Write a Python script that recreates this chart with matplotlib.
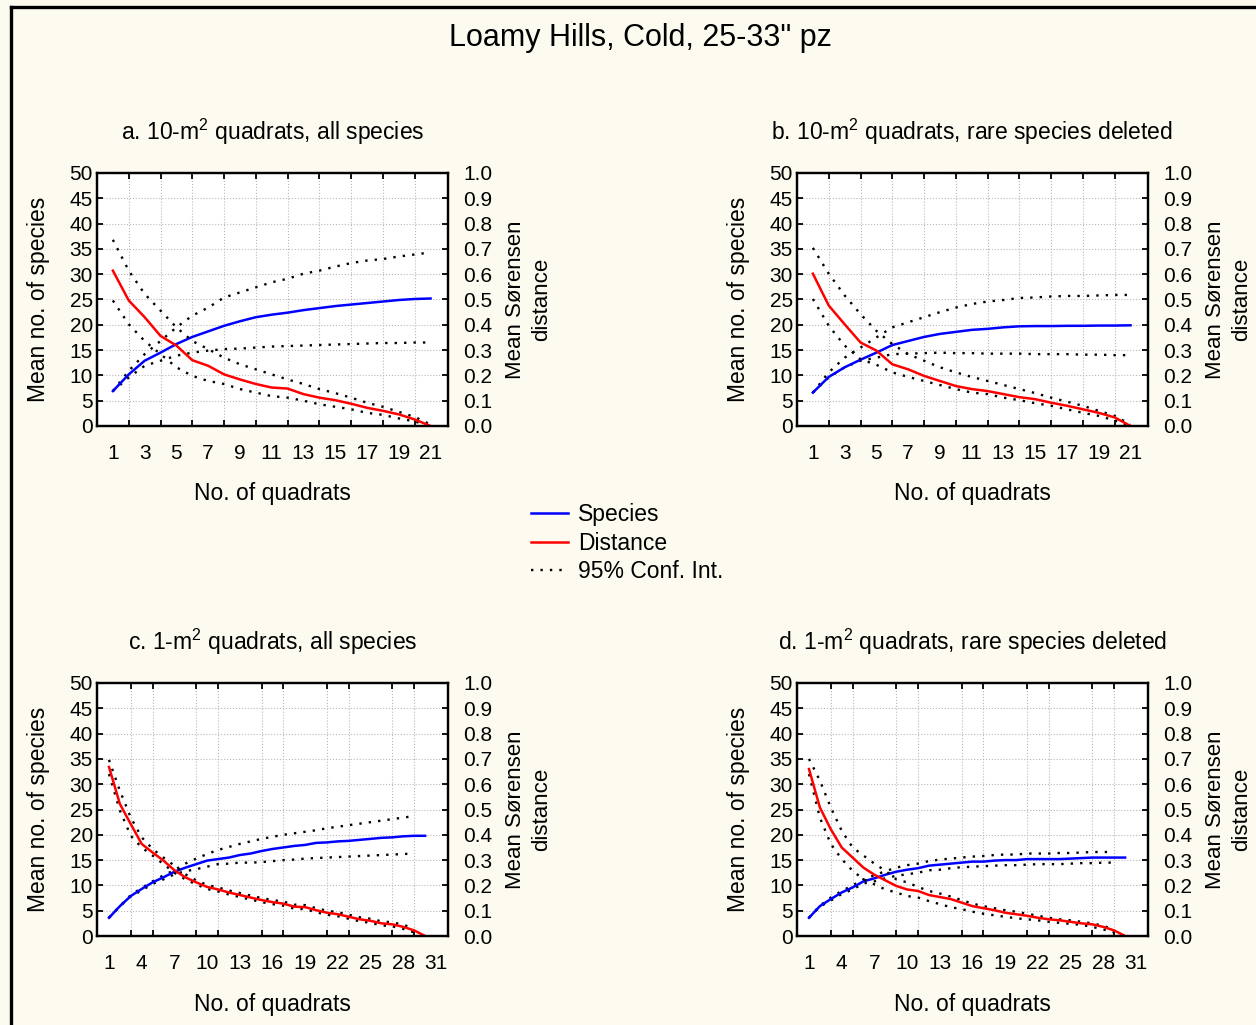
import numpy as np
import matplotlib
matplotlib.use('Agg')
import matplotlib.pyplot as plt
from matplotlib.lines import Line2D

plt.rcParams['font.family'] = ['Liberation Sans', 'DejaVu Sans']

# ---------------------------------------------------------------------------
# dados (especies: eixo esquerdo, distancia: eixo direito)
# ---------------------------------------------------------------------------

titulos = ['a. 10-m$^2$ quadrats, all species',
           'b. 10-m$^2$ quadrats, rare species deleted',
           'c. 1-m$^2$ quadrats, all species',
           'd. 1-m$^2$ quadrats, rare species deleted']

# painel a
esp_a = [6.9, 10.2, 12.9, 14.5, 16.2, 17.6, 18.7, 19.8, 20.7, 21.5, 22.0,
         22.4, 22.9, 23.3, 23.7, 24.0, 24.3, 24.6, 24.9, 25.1, 25.2]
esp_a_sup = [6.9, 10.9, 14.2, 16.8, 19.5, 21.8, 23.4, 25.4, 26.4, 27.4, 28.4,
             29.1, 30.1, 30.7, 31.5, 32.2, 32.7, 33.0, 33.5, 33.9, 34.3]
esp_a_inf = [6.9, 9.6, 11.9, 12.9, 13.9, 14.5, 14.9, 15.2, 15.3, 15.5, 15.7,
             15.8, 15.9, 16.0, 16.1, 16.2, 16.3, 16.4, 16.4, 16.5, 16.5]
dist_a = [0.614, 0.496, 0.430, 0.356, 0.318, 0.260, 0.238, 0.204, 0.184, 0.166, 0.152,
          0.148, 0.126, 0.112, 0.102, 0.088, 0.072, 0.060, 0.046, 0.026, 0.0]
dist_a_sup = [0.736, 0.614, 0.522, 0.456, 0.390, 0.336, 0.304, 0.270, 0.244, 0.224, 0.204,
              0.184, 0.166, 0.146, 0.130, 0.112, 0.092, 0.076, 0.056, 0.036, 0.006]
dist_a_inf = [0.496, 0.402, 0.336, 0.284, 0.232, 0.198, 0.178, 0.166, 0.146, 0.132, 0.118,
              0.112, 0.100, 0.086, 0.076, 0.066, 0.052, 0.044, 0.030, 0.018, 0.0]

# painel b
esp_b = [6.6, 9.7, 11.6, 13.1, 14.5, 16.0, 16.8, 17.6, 18.2, 18.6, 19.0,
         19.2, 19.5, 19.7, 19.75, 19.75, 19.8, 19.8, 19.85, 19.85, 19.9]
esp_b_sup = [6.6, 10.6, 13.5, 15.5, 17.5, 19.5, 20.5, 21.5, 22.5, 23.4, 24.1,
             24.6, 24.9, 25.3, 25.4, 25.6, 25.7, 25.7, 25.8, 25.9, 25.9]
esp_b_inf = [6.6, 9.6, 11.6, 12.9, 13.5, 14.2, 14.3, 14.4, 14.5, 14.4, 14.4,
             14.3, 14.3, 14.3, 14.2, 14.2, 14.2, 14.1, 14.1, 14.0, 14.0]
dist_b = [0.602, 0.476, 0.402, 0.330, 0.298, 0.244, 0.224, 0.198, 0.178, 0.158, 0.146,
          0.138, 0.126, 0.114, 0.106, 0.092, 0.080, 0.066, 0.052, 0.034, 0.0]
dist_b_sup = [0.704, 0.602, 0.516, 0.442, 0.376, 0.324, 0.284, 0.258, 0.232, 0.212, 0.194,
              0.178, 0.162, 0.146, 0.130, 0.112, 0.096, 0.080, 0.060, 0.040, 0.006]
dist_b_inf = [0.502, 0.396, 0.318, 0.264, 0.242, 0.212, 0.194, 0.178, 0.162, 0.146, 0.132,
              0.126, 0.112, 0.102, 0.090, 0.080, 0.066, 0.052, 0.040, 0.022, 0.0]

# painel c
esp_c = [3.6, 5.9, 7.9, 9.3, 10.6, 11.6, 12.7, 13.5, 14.2, 14.9, 15.2, 15.5, 16.0, 16.3, 16.8,
         17.2, 17.5, 17.8, 18.0, 18.4, 18.5, 18.7, 18.8, 19.0, 19.2, 19.4, 19.5, 19.7, 19.8, 19.8]
esp_c_sup = [3.6, 5.9, 8.1, 9.5, 10.8, 12.0, 13.0, 14.3, 15.3, 16.2, 17.0, 17.6, 18.2, 18.7, 19.2,
             19.6, 20.0, 20.3, 20.6, 20.9, 21.3, 21.6, 21.9, 22.2, 22.5, 22.8, 23.1, 23.4, 23.7]
esp_c_inf = [3.6, 5.9, 7.8, 9.0, 10.3, 11.2, 12.2, 12.8, 13.2, 13.7, 14.2, 14.3, 14.5, 14.5, 14.6,
             14.8, 15.0, 15.1, 15.3, 15.4, 15.5, 15.6, 15.7, 15.8, 15.9, 16.0, 16.1, 16.2, 16.3]
dist_c = [0.668, 0.522, 0.442, 0.364, 0.330, 0.298, 0.260, 0.232, 0.212, 0.194, 0.184, 0.172,
          0.162, 0.152, 0.142, 0.134, 0.128, 0.116, 0.114, 0.102, 0.092, 0.086, 0.076, 0.066,
          0.060, 0.050, 0.046, 0.036, 0.022, 0.0]
dist_c_sup = [0.696, 0.574, 0.468, 0.390, 0.344, 0.310, 0.278, 0.244, 0.220, 0.202, 0.192, 0.180,
              0.170, 0.160, 0.150, 0.142, 0.136, 0.124, 0.122, 0.110, 0.100, 0.094, 0.084, 0.074,
              0.068, 0.058, 0.054, 0.044, 0.030]
dist_c_inf = [0.640, 0.496, 0.396, 0.350, 0.318, 0.284, 0.250, 0.224, 0.204, 0.186, 0.176, 0.164,
              0.154, 0.144, 0.134, 0.126, 0.120, 0.108, 0.106, 0.094, 0.084, 0.078, 0.068, 0.058,
              0.052, 0.042, 0.038, 0.028, 0.014]

# painel d
esp_d = [3.6, 5.9, 7.3, 8.6, 9.6, 10.8, 11.4, 12.1, 12.7, 13.1, 13.4, 13.9, 14.1, 14.3, 14.5,
         14.7, 14.7, 14.9, 15.0, 15.0, 15.2, 15.2, 15.2, 15.2, 15.3, 15.4, 15.5, 15.5, 15.5, 15.5]
esp_d_sup = [3.6, 6.0, 7.6, 8.9, 10.0, 11.2, 12.0, 12.8, 13.5, 14.0, 14.3, 14.8, 15.1, 15.3, 15.5,
             15.7, 15.8, 16.0, 16.1, 16.1, 16.3, 16.3, 16.3, 16.4, 16.4, 16.5, 16.6, 16.6, 16.6]
esp_d_inf = [3.6, 5.8, 7.0, 8.3, 9.2, 10.4, 10.8, 11.4, 11.9, 12.2, 12.5, 13.0, 13.1, 13.4, 13.6,
             13.7, 13.8, 13.9, 14.0, 14.0, 14.1, 14.2, 14.2, 14.2, 14.3, 14.4, 14.4, 14.5, 14.5]
dist_d = [0.660, 0.508, 0.422, 0.350, 0.310, 0.270, 0.242, 0.220, 0.198, 0.184, 0.178, 0.162,
          0.154, 0.146, 0.132, 0.118, 0.110, 0.102, 0.092, 0.086, 0.080, 0.072, 0.066, 0.062,
          0.056, 0.050, 0.046, 0.036, 0.022, 0.0]
dist_d_sup = [0.700, 0.614, 0.508, 0.416, 0.350, 0.318, 0.286, 0.258, 0.224, 0.212, 0.194, 0.178,
              0.168, 0.156, 0.142, 0.128, 0.118, 0.110, 0.102, 0.096, 0.088, 0.080, 0.072, 0.066,
              0.062, 0.056, 0.050, 0.040, 0.026]
dist_d_inf = [0.640, 0.468, 0.364, 0.304, 0.258, 0.224, 0.204, 0.184, 0.172, 0.158, 0.152, 0.138,
              0.126, 0.114, 0.106, 0.096, 0.088, 0.082, 0.076, 0.070, 0.066, 0.062, 0.056, 0.052,
              0.048, 0.044, 0.036, 0.026, 0.014]

# rotulos do eixo x (rotulados) e marcas (com grade)
rotulos_10m = list(range(1, 22, 2))
marcas_10m = list(range(1, 22))
rotulos_1m = list(range(1, 32, 3))
marcas_1m = list(range(1, 32, 2))

paineis = [
    (titulos[0], esp_a, esp_a_sup, esp_a_inf, dist_a, dist_a_sup, dist_a_inf, rotulos_10m, marcas_10m, (0, 22.1)),
    (titulos[1], esp_b, esp_b_sup, esp_b_inf, dist_b, dist_b_sup, dist_b_inf, rotulos_10m, marcas_10m, (0, 22.1)),
    (titulos[2], esp_c, esp_c_sup, esp_c_inf, dist_c, dist_c_sup, dist_c_inf, rotulos_1m, marcas_1m, (-0.1, 32.1)),
    (titulos[3], esp_d, esp_d_sup, esp_d_inf, dist_d, dist_d_sup, dist_d_inf, rotulos_1m, marcas_1m, (-0.1, 32.1)),
]

plt.rcParams['mathtext.fontset'] = 'custom'
plt.rcParams['mathtext.rm'] = 'Liberation Sans'
plt.rcParams['mathtext.default'] = 'rm'

# posicoes dos eixos em pixels (esquerda, topo)
W, H = 1256, 1025
posicoes = [(97, 173), (797, 173), (97, 683), (797, 683)]
larg, alt = 351, 253

fundo = '#fdfaef'
pontilhado = (0, (1, 3))
tam_tick = 15

fig = plt.figure(figsize=(W / 100, H / 100), dpi=100, facecolor=fundo)

for (titulo, esp, esp_sup, esp_inf, dist, dist_sup, dist_inf, rot, marcas, xlim), (px, py) in zip(paineis, posicoes):
    ax = fig.add_axes([px / W, 1 - (py + alt) / H, larg / W, alt / H])
    ax.set_facecolor('white')
    ax2 = ax.twinx()

    x = np.arange(1, len(esp) + 1)
    xi = np.arange(1, len(esp_sup) + 1)

    ax.plot(xi, esp_sup, color='black', lw=1.7, ls=pontilhado)
    ax.plot(xi, esp_inf, color='black', lw=1.7, ls=pontilhado)
    ax.plot(x, esp, color='#0000ff', lw=1.8)

    ax2.plot(xi, dist_sup, color='black', lw=1.7, ls=pontilhado)
    ax2.plot(xi, dist_inf, color='black', lw=1.7, ls=pontilhado)
    ax2.plot(x, dist, color='#ff0000', lw=1.8)

    ax.set_xlim(*xlim)
    ax.set_ylim(0, 50)
    ax2.set_ylim(0, 1)

    ax.set_xticks(rot)
    ax.set_xticks(marcas, minor=True)
    ax.set_yticks(range(0, 51, 5))
    ax2.set_yticks(np.arange(0, 1.01, 0.1))
    ax2.set_yticklabels(['%.1f' % v for v in np.arange(0, 1.01, 0.1)])

    ax.tick_params(axis='x', which='major', length=0, pad=13, labelsize=tam_tick)
    ax.tick_params(axis='x', which='minor', direction='in', length=4, width=1.3, top=True, bottom=True)
    ax.tick_params(axis='y', direction='in', length=4, width=1.3, pad=3, labelsize=tam_tick)
    ax2.tick_params(axis='y', direction='in', length=4, width=1.3, pad=11, labelsize=tam_tick)

    ax.grid(which='minor', axis='x', ls=':', color='#b8b8b8', lw=0.8)
    ax.grid(which='major', axis='y', ls=':', color='#b8b8b8', lw=0.8)

    for s in ax.spines.values():
        s.set_linewidth(1.6)
    for s in ax2.spines.values():
        s.set_linewidth(1.6)

    ax.set_xlabel('No. of quadrats', fontsize=16.5, labelpad=14)
    ax.set_ylabel('Mean no. of species', fontsize=16.5, labelpad=14)
    ax2.set_ylabel('Mean Sørensen\ndistance', fontsize=16, labelpad=9, linespacing=1.3)
    ax.set_title(titulo, fontsize=16.5, pad=24)

fig.text(640 / W, 1 - 38 / H, 'Loamy Hills, Cold, 25-33" pz', fontsize=22, ha='center', va='center')

# legenda no centro
itens = [Line2D([], [], color='#0000ff', lw=1.8),
         Line2D([], [], color='#ff0000', lw=1.8),
         Line2D([], [], color='black', lw=1.7, ls=pontilhado)]
fig.legend(itens, ['Species', 'Distance', '95% Conf. Int.'], loc='upper left',
           bbox_to_anchor=(531 / W, 1 - 503 / H), frameon=False, fontsize=16.5,
           handlelength=1.6, handletextpad=0.45, labelspacing=0.25, borderpad=0, borderaxespad=0)

# moldura (so aparecem as bordas esquerda e superior)
fig.add_artist(Line2D([11 / W, 11 / W], [0, 1 - 7 / H], color='black', lw=2.4, transform=fig.transFigure))
fig.add_artist(Line2D([11 / W, 1], [1 - 7 / H, 1 - 7 / H], color='black', lw=2.4, transform=fig.transFigure))

fig.savefig('out.png', dpi=100, facecolor=fundo)
